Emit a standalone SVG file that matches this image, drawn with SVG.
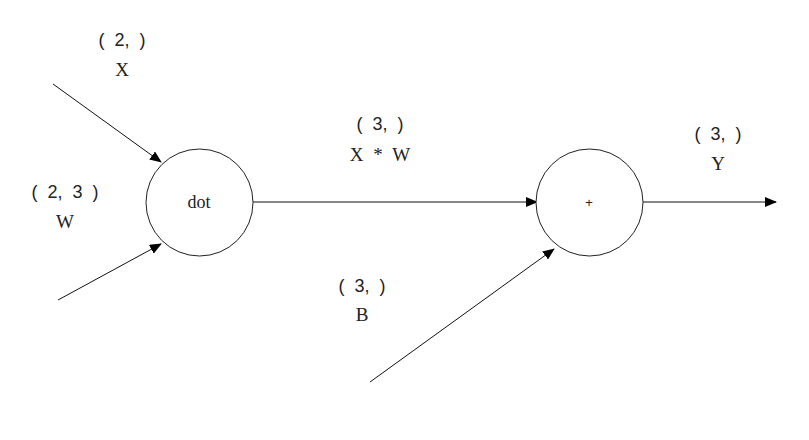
<svg xmlns="http://www.w3.org/2000/svg" width="809" height="440" viewBox="0 0 809 440">
<style>
.node{fill:#fff;stroke:#222;stroke-width:1}
.edge{stroke:#111;stroke-width:1;fill:none}
.t{font-family:"Liberation Sans",Arial,sans-serif;font-size:18px;fill:#222;text-anchor:middle;word-spacing:5px}
.s{font-family:"Liberation Serif","Times New Roman",serif;font-size:19px;fill:#222;text-anchor:middle;word-spacing:5px}
</style>
<defs>
<marker id="ah" markerWidth="12" markerHeight="10" refX="11" refY="5" orient="auto" markerUnits="userSpaceOnUse">
<path d="M0,0 L12,5 L0,10 Z" fill="#000"/>
</marker>
</defs>
<rect width="809" height="440" fill="#fff"/>
<g id="connectors">
<line class="edge" x1="53" y1="84" x2="161" y2="162" marker-end="url(#ah)"/>
<line class="edge" x1="58" y1="300" x2="161" y2="244" marker-end="url(#ah)"/>
<line class="edge" x1="253" y1="202" x2="537" y2="202" marker-end="url(#ah)"/>
<line class="edge" x1="370" y1="382" x2="554" y2="249" marker-end="url(#ah)"/>
<line class="edge" x1="643" y1="202" x2="776" y2="202" marker-end="url(#ah)"/>
</g>
<g id="node-dot">
<circle class="node" cx="199.5" cy="202.5" r="53.5"/>
<text class="s" x="199" y="208" style="font-size:18px">dot</text>
</g>
<g id="node-plus">
<circle class="node" cx="589.5" cy="202.5" r="53.5"/>
<text class="t" x="589" y="207" style="font-size:13px">+</text>
</g>
<g id="label-X">
<text class="t" x="122" y="46">( 2, )</text>
<text class="s" x="122" y="76">X</text>
</g>
<g id="label-W">
<text class="t" x="65" y="198">( 2, 3 )</text>
<text class="s" x="65" y="228">W</text>
</g>
<g id="label-XW">
<text class="t" x="380" y="130">( 3, )</text>
<text class="s" x="380" y="161">X * W</text>
</g>
<g id="label-B">
<text class="t" x="362" y="292">( 3, )</text>
<text class="s" x="362" y="321">B</text>
</g>
<g id="label-Y">
<text class="t" x="718" y="140">( 3, )</text>
<text class="s" x="718" y="170">Y</text>
</g>
</svg>
